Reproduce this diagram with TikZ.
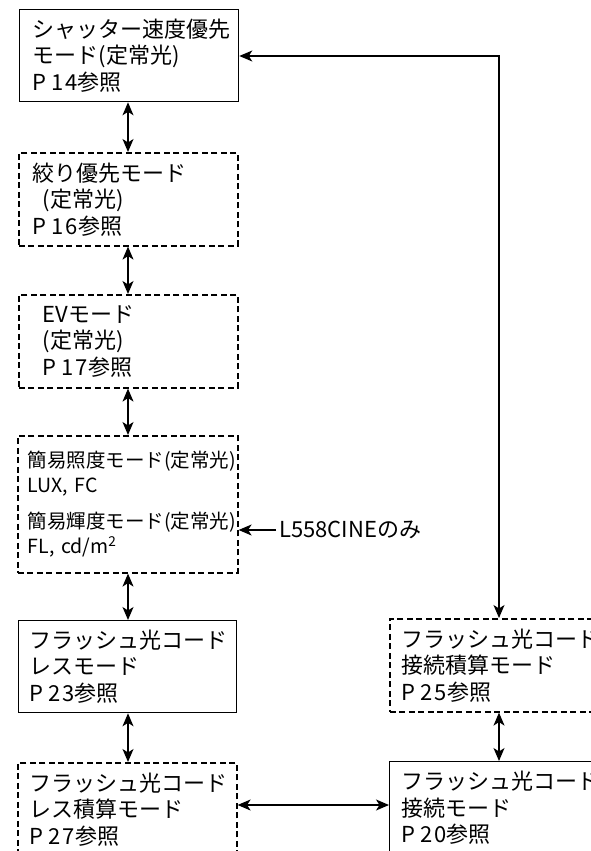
\documentclass[tikz,border=0pt]{standalone}
\usepackage{fontspec}
\setmainfont{Noto Sans CJK JP}
\usetikzlibrary{arrows.meta}
\newcommand\pref[2]{P\kern5pt#1\kern2pt#2参照}
\begin{document}
\begin{tikzpicture}[x=1pt,y=-1pt,
  box/.style={draw, line width=1.3pt, anchor=north west, align=left,
    inner ysep=0pt, font=\fontsize{22}{26.5}\selectfont},
  dbox/.style={box, line width=1.6pt, dash pattern=on 6pt off 3.5pt},
  arr/.style={line width=1.4pt, {Stealth[length=13pt,width=11pt,inset=3.5pt]}-{Stealth[length=13pt,width=11pt,inset=3.5pt]}},
  onearr/.style={line width=1.4pt, -{Stealth[length=13pt,width=11pt,inset=3.5pt]}},
  note/.style={anchor=west, inner xsep=3pt, inner ysep=0pt, font=\fontsize{22}{26}\selectfont}]
\useasboundingbox (0,0) rectangle (591,851);
\clip (0,0) rectangle (591,851);

\node[box, inner xsep=13pt, text width=193pt, minimum height=92pt] (b1) at (19,9)
  {シャッター速度優先\\モード(定常光)\\\pref14};
\node[dbox, inner xsep=14pt, text width=191pt, minimum height=93pt] (b2) at (18,152)
  {絞り優先モード\\\hspace*{10pt}(定常光)\\\pref16};
\node[dbox, inner xsep=24pt, text width=171pt, minimum height=93pt] (b3) at (18,294)
  {EVモード\\(定常光)\\\pref17};
\node[dbox, inner xsep=10pt, text width=200pt, minimum height=137pt,
  font=\fontsize{19.5}{25}\selectfont] (b4) at (17,435)
  {簡易照度モード(定常光)\\LUX, FC\\[11pt]簡易輝度モード(定常光)\\FL, cd/m\textsuperscript{2}};
\node[box, inner xsep=11pt, text width=196pt, minimum height=92pt] (b5) at (18,620)
  {フラッシュ光コード\\レスモード\\\pref23};
\node[dbox, inner xsep=12pt, text width=195pt, minimum height=93pt] (b6) at (17,762)
  {フラッシュ光コード\\レス積算モード\\\pref27};
\node[dbox, inner xsep=12pt, text width=207pt, minimum height=93pt] (b7) at (389,618)
  {フラッシュ光コード\\接続積算モード\\\pref25};
\node[box, inner xsep=12pt, text width=207pt, minimum height=93pt] (b8) at (389,761)
  {フラッシュ光コード\\接続モード\\\pref20};

\node[note] (only) at (276,530) {L558CINEのみ};

\coordinate (v) at (128,0);
\coordinate (c) at (499,56);
\coordinate (h) at (0,805);

\draw[arr] (v |- b1.south) -- (v |- b2.north);
\draw[arr] (v |- b2.south) -- (v |- b3.north);
\draw[arr] (v |- b3.south) -- (v |- b4.north);
\draw[arr] (v |- b4.south) -- (v |- b5.north);
\draw[arr] (v |- b5.south) -- (v |- b6.north);
\draw[arr] (b1.east |- c) -- (c) -- (c |- b7.north);
\draw[arr] (c |- b7.south) -- (c |- b8.north);
\draw[arr] (b6.east |- h) -- (b8.west |- h);
\draw[onearr] (only.west) -- (only.west -| b4.east);
\end{tikzpicture}
\end{document}
